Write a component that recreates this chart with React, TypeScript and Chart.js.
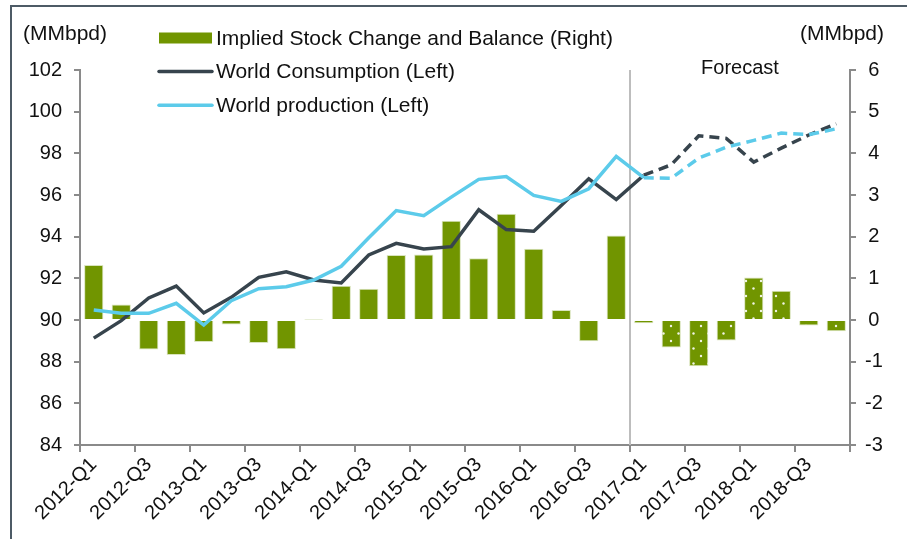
import React, { useEffect, useRef } from 'react';
import { Chart, registerables } from 'chart.js';

Chart.register(...registerables);

// ---------- data ----------
const categories = [
  '2012-Q1', '2012-Q2', '2012-Q3', '2012-Q4',
  '2013-Q1', '2013-Q2', '2013-Q3', '2013-Q4',
  '2014-Q1', '2014-Q2', '2014-Q3', '2014-Q4',
  '2015-Q1', '2015-Q2', '2015-Q3', '2015-Q4',
  '2016-Q1', '2016-Q2', '2016-Q3', '2016-Q4',
  '2017-Q1', '2017-Q2', '2017-Q3', '2017-Q4',
  '2018-Q1', '2018-Q2', '2018-Q3', '2018-Q4',
];

const stockChange = [
  1.32, 0.37, -0.71, -0.84, -0.53, -0.11, -0.55, -0.7,
  0.01, 0.82, 0.75, 1.56, 1.57, 2.38, 1.48, 2.55,
  1.71, 0.24, -0.51, 2.03, -0.08, -0.66, -1.11, -0.49,
  1.02, 0.7, -0.13, -0.27,
];

const consumption = [
  89.13, 89.97, 91.06, 91.63, 90.34, 91.09, 92.05, 92.31,
  91.92, 91.78, 93.12, 93.68, 93.41, 93.52, 95.29, 94.34,
  94.26, 95.5, 96.78, 95.78, 96.95, 97.45, 98.84, 98.72,
  97.58, 98.25, 98.88, 99.42,
];

const production = [
  90.48, 90.32, 90.32, 90.8, 89.76, 90.93, 91.5, 91.6,
  91.92, 92.58, 93.95, 95.25, 95.01, 95.9, 96.75, 96.89,
  95.98, 95.69, 96.3, 97.85, 96.83, 96.8, 97.77, 98.3,
  98.62, 98.97, 98.9, 99.18,
];

const seriesLabels = [
  'Implied Stock Change and Balance (Right)',
  'World Consumption (Left)',
  'World production (Left)',
];

const leftRange = [84, 102];
const rightRange = [-3, 6];
const forecastStart = 20; // index of 2017-Q1
const unitLabel = '(MMbpd)';
const forecastLabel = 'Forecast';

// ---------- styles ----------
const FONT = '"Liberation Sans", Arial, Helvetica, sans-serif';
const TEXT = '#111111';
const AXIS = '#8a8a8a';
const BAR = '#719500';
const BAR_EDGE = '#d9e4bd';
const CONS = '#37444d';
const PROD = '#5ccbea';

function makeDotPattern(base: string): CanvasPattern | string {
  const c = document.createElement('canvas');
  c.width = 15;
  c.height = 15;
  const g = c.getContext('2d');
  if (!g) return base;
  g.fillStyle = base;
  g.fillRect(0, 0, 15, 15);
  g.fillStyle = 'rgba(255,255,255,0.9)';
  g.beginPath();
  g.arc(3.5, 3.5, 1.2, 0, Math.PI * 2);
  g.fill();
  g.beginPath();
  g.arc(11, 11, 1.2, 0, Math.PI * 2);
  g.fill();
  return g.createPattern(c, 'repeat') || base;
}

const decorPlugin = {
  id: 'decor',
  beforeDatasetsDraw(chart: any) {
    const { ctx, chartArea, scales } = chart;
    const xs = scales.x;
    const xLine = (xs.getPixelForValue(forecastStart - 1) + xs.getPixelForValue(forecastStart)) / 2;
    ctx.save();
    ctx.strokeStyle = '#bdbdbd';
    ctx.lineWidth = 2;
    ctx.beginPath();
    ctx.moveTo(xLine, chartArea.top);
    ctx.lineTo(xLine, chartArea.bottom);
    ctx.stroke();
    ctx.restore();
  },
  afterDraw(chart: any) {
    const { ctx, chartArea, scales } = chart;
    const xs = scales.x;
    const xLine = (xs.getPixelForValue(forecastStart - 1) + xs.getPixelForValue(forecastStart)) / 2;
    ctx.save();
    ctx.fillStyle = TEXT;
    ctx.textBaseline = 'middle';
    ctx.font = `21px ${FONT}`;
    // unit labels
    ctx.textAlign = 'left';
    ctx.fillText(unitLabel, 23, 34);
    ctx.textAlign = 'right';
    ctx.fillText(unitLabel, 884, 34);
    // forecast label
    ctx.font = `20px ${FONT}`;
    ctx.textAlign = 'center';
    ctx.fillText(forecastLabel, (xLine + chartArea.right) / 2, 68);

    // legend
    ctx.font = `21px ${FONT}`;
    const ds = chart.data.datasets;
    const rows = [38, 71.6, 105.2];
    const boxX = 159;
    const boxW = 53;
    ctx.textAlign = 'left';
    ds.forEach((d: any, i: number) => {
      const y = rows[i];
      if (d.type === 'bar') {
        ctx.fillStyle = BAR;
        ctx.fillRect(boxX, y - 5.5, boxW, 11);
      } else {
        ctx.strokeStyle = d.borderColor;
        ctx.lineWidth = 3.5;
        ctx.lineCap = 'round';
        ctx.beginPath();
        ctx.moveTo(boxX, y);
        ctx.lineTo(boxX + boxW, y);
        ctx.stroke();
      }
      ctx.fillStyle = TEXT;
      ctx.fillText(d.label, 216, y + 1);
    });
    ctx.restore();
  },
};

export default function App() {
  const ref = useRef<HTMLCanvasElement | null>(null);

  useEffect(() => {
    if (!ref.current) return;
    const pattern = makeDotPattern(BAR);
    const dashAfterForecast = (c: any) => (c.p0DataIndex >= forecastStart ? [10, 6] : undefined);
    const tickFont = { family: FONT, size: 20 };
    const evenOnly = (c: any) =>
      c.index === undefined || c.index % 2 === 0 ? AXIS : 'rgba(0,0,0,0)';

    const chart = new Chart(ref.current, {
      type: 'bar',
      data: {
        labels: categories,
        datasets: [
          {
            type: 'bar',
            label: seriesLabels[0],
            data: stockChange,
            yAxisID: 'y1',
            backgroundColor: (c: any) => (c.dataIndex >= forecastStart ? pattern : BAR),
            borderColor: BAR_EDGE,
            borderWidth: 1,
            barPercentage: 0.7,
            categoryPercentage: 1,
            order: 3,
          } as any,
          {
            type: 'line',
            label: seriesLabels[1],
            data: consumption,
            yAxisID: 'y',
            borderColor: CONS,
            backgroundColor: CONS,
            borderWidth: 3.5,
            pointRadius: 0,
            tension: 0,
            borderCapStyle: 'butt',
            segment: { borderDash: dashAfterForecast },
            order: 2,
          } as any,
          {
            type: 'line',
            label: seriesLabels[2],
            data: production,
            yAxisID: 'y',
            borderColor: PROD,
            backgroundColor: PROD,
            borderWidth: 3.5,
            pointRadius: 0,
            tension: 0,
            borderCapStyle: 'butt',
            segment: { borderDash: dashAfterForecast },
            order: 1,
          } as any,
        ],
      },
      options: {
        responsive: false,
        animation: false,
        devicePixelRatio: 1,
        layout: { padding: { top: 70, left: 0, right: 0, bottom: 0 } },
        plugins: {
          legend: { display: false },
          tooltip: { enabled: false },
        },
        scales: {
          x: {
            offset: true,
            grid: {
              offset: true,
              drawOnChartArea: false,
              drawTicks: true,
              tickLength: 7,
              lineWidth: 2,
              color: evenOnly,
              tickColor: evenOnly,
            },
            border: { color: AXIS, width: 2 },
            ticks: {
              autoSkip: false,
              maxRotation: 45,
              minRotation: 45,
              padding: 1,
              color: TEXT,
              font: tickFont,
              callback: (_v: any, i: number) => (i % 2 === 0 ? categories[i] : ''),
            },
            afterFit: (s: any) => {
              s.height = 94;
            },
          },
          y: {
            position: 'left',
            min: leftRange[0],
            max: leftRange[1],
            grid: { drawOnChartArea: false, tickLength: 6, lineWidth: 2, color: AXIS },
            border: { color: AXIS, width: 2 },
            ticks: { stepSize: 2, padding: 12, color: TEXT, font: tickFont },
            afterFit: (s: any) => {
              s.width = 80;
            },
          },
          y1: {
            position: 'right',
            min: rightRange[0],
            max: rightRange[1],
            grid: { drawOnChartArea: false, tickLength: 6, lineWidth: 2, color: AXIS },
            border: { color: AXIS, width: 2 },
            ticks: { stepSize: 1, padding: 9, crossAlign: 'center', color: TEXT, font: tickFont },
            afterFit: (s: any) => {
              s.width = 57;
            },
          },
        },
      } as any,
      plugins: [decorPlugin],
    });
    return () => chart.destroy();
  }, []);

  return (
    <div style={{ position: 'absolute', left: 0, top: 0, width: 907, height: 539, background: '#fff', overflow: 'hidden' }}>
      <div
        style={{
          position: 'absolute',
          left: 10,
          top: 5,
          width: 920,
          height: 560,
          borderLeft: '2px solid #4d5b66',
          borderTop: '2px solid #4d5b66',
        }}
      />
      <canvas
        ref={ref}
        width={907}
        height={539}
        style={{ position: 'absolute', left: 0, top: 0, width: 907, height: 539 }}
      />
    </div>
  );
}
